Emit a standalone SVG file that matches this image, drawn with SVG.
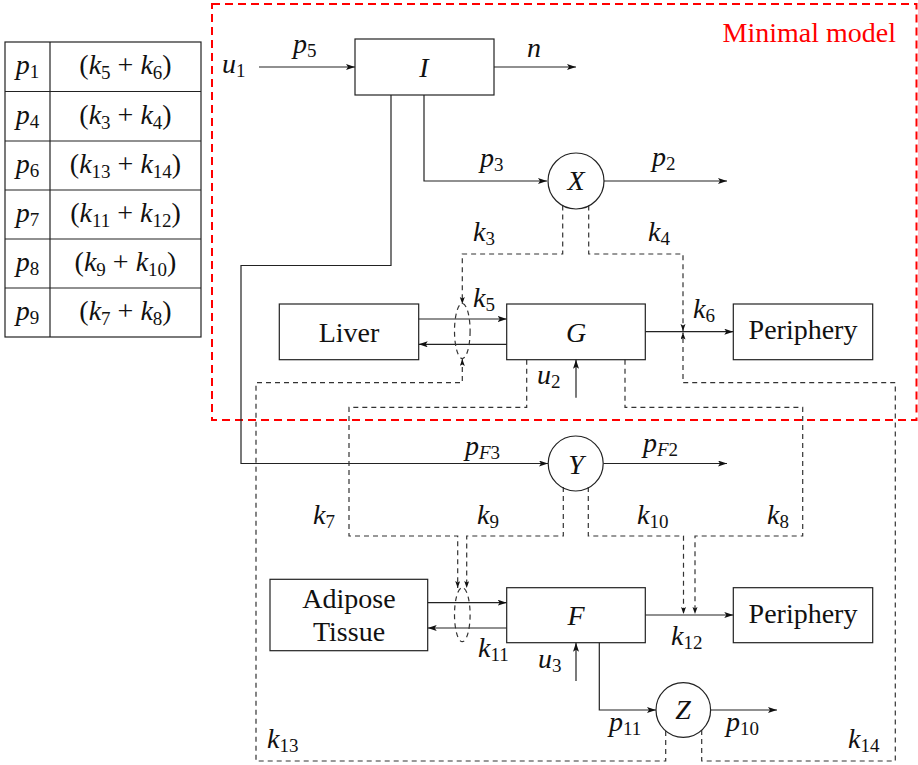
<svg xmlns="http://www.w3.org/2000/svg" width="918" height="765" viewBox="0 0 918 765" font-family="Liberation Serif">
<style>
.bx{fill:none;stroke:#222;stroke-width:1.2}
.ln{fill:none;stroke:#222;stroke-width:1.2}
.ds{fill:none;stroke:#333;stroke-width:1.2;stroke-dasharray:5,4}
.red{fill:none;stroke:#ff0000;stroke-width:2;stroke-dasharray:8,5}
.m{font-style:italic;font-size:28px;fill:#111}
.s{font-style:normal;font-size:19px}
.si{font-style:italic;font-size:19px}
.n{font-style:normal}
.rm{font-style:normal;font-size:28px;fill:#111}
</style>
<defs>
<marker id="ah" markerUnits="userSpaceOnUse" markerWidth="10" markerHeight="8" refX="9" refY="3" orient="auto">
<path d="M0,0 L9,3 L0,6 L2,3 z" fill="#111" stroke="none"/>
</marker>
<marker id="ahs" markerUnits="userSpaceOnUse" markerWidth="9" markerHeight="7" refX="7" refY="2.5" orient="auto">
<path d="M0,0 L7,2.5 L0,5 L1.6,2.5 z" fill="#111" stroke="none"/>
</marker>
</defs>
<rect width="918" height="765" fill="#fff"/>

<g id="table">
<rect class="bx" x="5" y="42" width="196" height="295"/>
<line class="ln" x1="50" y1="42" x2="50" y2="337"/>
<line class="ln" x1="5" y1="91.5" x2="201" y2="91.5"/>
<line class="ln" x1="5" y1="141" x2="201" y2="141"/>
<line class="ln" x1="5" y1="190" x2="201" y2="190"/>
<line class="ln" x1="5" y1="239" x2="201" y2="239"/>
<line class="ln" x1="5" y1="288" x2="201" y2="288"/>
<text font-family="Liberation Serif" class="m" x="27.5" y="74" text-anchor="middle">p<tspan class="s" dy="4">1</tspan></text>
<text font-family="Liberation Serif" class="m" x="27.5" y="123.5" text-anchor="middle">p<tspan class="s" dy="4">4</tspan></text>
<text font-family="Liberation Serif" class="m" x="27.5" y="172.5" text-anchor="middle">p<tspan class="s" dy="4">6</tspan></text>
<text font-family="Liberation Serif" class="m" x="27.5" y="221.5" text-anchor="middle">p<tspan class="s" dy="4">7</tspan></text>
<text font-family="Liberation Serif" class="m" x="27.5" y="270.5" text-anchor="middle">p<tspan class="s" dy="4">8</tspan></text>
<text font-family="Liberation Serif" class="m" x="27.5" y="319.5" text-anchor="middle">p<tspan class="s" dy="4">9</tspan></text>
<text font-family="Liberation Serif" class="m" x="125.5" y="74" text-anchor="middle"><tspan class="n">(</tspan>k<tspan class="s" dy="5">5</tspan><tspan class="n" dy="-5"> + </tspan>k<tspan class="s" dy="5">6</tspan><tspan class="n" dy="-5">)</tspan></text>
<text font-family="Liberation Serif" class="m" x="125.5" y="123.5" text-anchor="middle"><tspan class="n">(</tspan>k<tspan class="s" dy="5">3</tspan><tspan class="n" dy="-5"> + </tspan>k<tspan class="s" dy="5">4</tspan><tspan class="n" dy="-5">)</tspan></text>
<text font-family="Liberation Serif" class="m" x="125.5" y="172.5" text-anchor="middle"><tspan class="n">(</tspan>k<tspan class="s" dy="5">13</tspan><tspan class="n" dy="-5"> + </tspan>k<tspan class="s" dy="5">14</tspan><tspan class="n" dy="-5">)</tspan></text>
<text font-family="Liberation Serif" class="m" x="125.5" y="221.5" text-anchor="middle"><tspan class="n">(</tspan>k<tspan class="s" dy="5">11</tspan><tspan class="n" dy="-5"> + </tspan>k<tspan class="s" dy="5">12</tspan><tspan class="n" dy="-5">)</tspan></text>
<text font-family="Liberation Serif" class="m" x="125.5" y="270.5" text-anchor="middle"><tspan class="n">(</tspan>k<tspan class="s" dy="5">9</tspan><tspan class="n" dy="-5"> + </tspan>k<tspan class="s" dy="5">10</tspan><tspan class="n" dy="-5">)</tspan></text>
<text font-family="Liberation Serif" class="m" x="125.5" y="319.5" text-anchor="middle"><tspan class="n">(</tspan>k<tspan class="s" dy="5">7</tspan><tspan class="n" dy="-5"> + </tspan>k<tspan class="s" dy="5">8</tspan><tspan class="n" dy="-5">)</tspan></text>
</g>

<g id="minimal-model">
<rect class="red" x="212" y="4" width="704.5" height="416"/>
<text font-family="Liberation Serif" x="896" y="42" text-anchor="end" font-size="28" fill="#ff0000">Minimal model</text>
</g>

<g id="connectors">
<line class="ln" x1="259" y1="67" x2="355" y2="67" marker-end="url(#ah)"/>
<line class="ln" x1="494" y1="67" x2="576" y2="67" marker-end="url(#ah)"/>
<path class="ln" d="M424,95 V181 H547" marker-end="url(#ah)"/>
<line class="ln" x1="604" y1="181" x2="727" y2="181" marker-end="url(#ah)"/>
<path class="ln" d="M391,95 V265.5 H241 V463.5 H548" marker-end="url(#ah)"/>
<line class="ln" x1="418.7" y1="319" x2="506.7" y2="319" marker-end="url(#ah)"/>
<line class="ln" x1="506.7" y1="344.3" x2="418.7" y2="344.3" marker-end="url(#ah)"/>
<line class="ln" x1="645.3" y1="331.7" x2="733.3" y2="331.7" marker-end="url(#ah)"/>
<line class="ln" x1="576" y1="397.7" x2="576" y2="359.7" marker-end="url(#ah)"/>
<line class="ln" x1="603.5" y1="463.5" x2="727" y2="463.5" marker-end="url(#ah)"/>
<line class="ln" x1="427.7" y1="602.7" x2="506.7" y2="602.7" marker-end="url(#ah)"/>
<line class="ln" x1="506.7" y1="628" x2="427.7" y2="628" marker-end="url(#ah)"/>
<line class="ln" x1="645.3" y1="615" x2="733.3" y2="615" marker-end="url(#ah)"/>
<line class="ln" x1="576" y1="681" x2="576" y2="642.7" marker-end="url(#ah)"/>
<path class="ln" d="M599.3,642.7 V710 H656" marker-end="url(#ah)"/>
<line class="ln" x1="710.7" y1="710" x2="777" y2="710" marker-end="url(#ah)"/>

<ellipse class="ds" cx="462.3" cy="331" rx="7.8" ry="27.5" stroke-dasharray="4,3"/>
<ellipse class="ds" cx="462.3" cy="614.7" rx="7.8" ry="27" stroke-dasharray="4,3"/>

<path class="ds" d="M562.7,205.6 V254 H462.3 V304" marker-end="url(#ahs)"/>
<path class="ds" d="M588.7,205.6 V254 H683 V331" marker-end="url(#ahs)"/>
<path class="ds" d="M665.7,731 V761 H256 V382.7 H462.3 V359" marker-end="url(#ahs)"/>
<path class="ds" d="M701.7,730 V761 H895.3 V382.7 H683 V332.5" marker-end="url(#ahs)"/>
<path class="ds" d="M526.7,359.7 V407.3 H349 V536 H457.7 V588" marker-end="url(#ahs)"/>
<path class="ds" d="M625,359.7 V407.3 H802.7 V536 H695 V614" marker-end="url(#ahs)"/>
<path class="ds" d="M563.3,487 V536 H466.7 V588" marker-end="url(#ahs)"/>
<path class="ds" d="M588.3,487 V536 H683.5 V614" marker-end="url(#ahs)"/>
</g>

<g id="labels">
<text font-family="Liberation Serif" class="m" x="222" y="73">u<tspan class="s" dy="4">1</tspan></text>
<text font-family="Liberation Serif" class="m" x="293" y="53">p<tspan class="s" dy="4">5</tspan></text>
<text font-family="Liberation Serif" class="m" x="527" y="57">n</text>
<text font-family="Liberation Serif" class="m" x="480" y="167">p<tspan class="s" dy="4">3</tspan></text>
<text font-family="Liberation Serif" class="m" x="652" y="166">p<tspan class="s" dy="4">2</tspan></text>
<text font-family="Liberation Serif" class="m" x="473" y="241">k<tspan class="s" dy="4">3</tspan></text>
<text font-family="Liberation Serif" class="m" x="648" y="241">k<tspan class="s" dy="4">4</tspan></text>
<text font-family="Liberation Serif" class="m" x="473" y="307">k<tspan class="s" dy="4">5</tspan></text>
<text font-family="Liberation Serif" class="m" x="537" y="384">u<tspan class="s" dy="4">2</tspan></text>
<text font-family="Liberation Serif" class="m" x="693" y="318">k<tspan class="s" dy="4">6</tspan></text>
<text font-family="Liberation Serif" class="m" x="465" y="455">p<tspan class="si" dy="4">F</tspan><tspan class="s">3</tspan></text>
<text font-family="Liberation Serif" class="m" x="643" y="452">p<tspan class="si" dy="4">F</tspan><tspan class="s">2</tspan></text>
<text font-family="Liberation Serif" class="m" x="313" y="524">k<tspan class="s" dy="4">7</tspan></text>
<text font-family="Liberation Serif" class="m" x="477" y="524">k<tspan class="s" dy="4">9</tspan></text>
<text font-family="Liberation Serif" class="m" x="637" y="524">k<tspan class="s" dy="4">10</tspan></text>
<text font-family="Liberation Serif" class="m" x="767" y="524">k<tspan class="s" dy="4">8</tspan></text>
<text font-family="Liberation Serif" class="m" x="478" y="657">k<tspan class="s" dy="4">11</tspan></text>
<text font-family="Liberation Serif" class="m" x="538" y="668">u<tspan class="s" dy="4">3</tspan></text>
<text font-family="Liberation Serif" class="m" x="671" y="645">k<tspan class="s" dy="4">12</tspan></text>
<text font-family="Liberation Serif" class="m" x="609" y="731">p<tspan class="s" dy="4">11</tspan></text>
<text font-family="Liberation Serif" class="m" x="726" y="731">p<tspan class="s" dy="4">10</tspan></text>
<text font-family="Liberation Serif" class="m" x="267" y="748">k<tspan class="s" dy="4">13</tspan></text>
<text font-family="Liberation Serif" class="m" x="848" y="748">k<tspan class="s" dy="4">14</tspan></text>
</g>

<g id="node-I">
<rect class="bx" x="355" y="39" width="139" height="56"/>
<text font-family="Liberation Serif" class="m" x="424" y="77" text-anchor="middle">I</text>
</g>
<g id="node-X">
<circle class="bx" cx="576" cy="181" r="28"/>
<text font-family="Liberation Serif" class="m" x="576" y="190" text-anchor="middle">X</text>
</g>
<g id="node-Liver">
<rect class="bx" x="279.3" y="304" width="139.4" height="55.7"/>
<text font-family="Liberation Serif" class="rm" x="349" y="342" text-anchor="middle">Liver</text>
</g>
<g id="node-G">
<rect class="bx" x="506.7" y="304" width="138.6" height="55.7"/>
<text font-family="Liberation Serif" class="m" x="576" y="342" text-anchor="middle">G</text>
</g>
<g id="node-Periphery1">
<rect class="bx" x="733.3" y="304" width="139.4" height="55.7"/>
<text font-family="Liberation Serif" class="rm" x="803" y="339" text-anchor="middle">Periphery</text>
</g>
<g id="node-Y">
<circle class="bx" cx="575.7" cy="463.5" r="27.5"/>
<text font-family="Liberation Serif" class="m" x="576" y="474" text-anchor="middle">Y</text>
</g>
<g id="node-Adipose">
<rect class="bx" x="270" y="579.3" width="157.7" height="71.4"/>
<text font-family="Liberation Serif" class="rm" x="349" y="608" text-anchor="middle">Adipose</text>
<text font-family="Liberation Serif" class="rm" x="349" y="641" text-anchor="middle">Tissue</text>
</g>
<g id="node-F">
<rect class="bx" x="506.7" y="587.7" width="138.6" height="55"/>
<text font-family="Liberation Serif" class="m" x="576" y="625" text-anchor="middle">F</text>
</g>
<g id="node-Periphery2">
<rect class="bx" x="733.3" y="587.7" width="139.4" height="55"/>
<text font-family="Liberation Serif" class="rm" x="803" y="623" text-anchor="middle">Periphery</text>
</g>
<g id="node-Z">
<circle class="bx" cx="683.3" cy="710" r="27.3"/>
<text font-family="Liberation Serif" class="m" x="683" y="719" text-anchor="middle">Z</text>
</g>
</svg>
